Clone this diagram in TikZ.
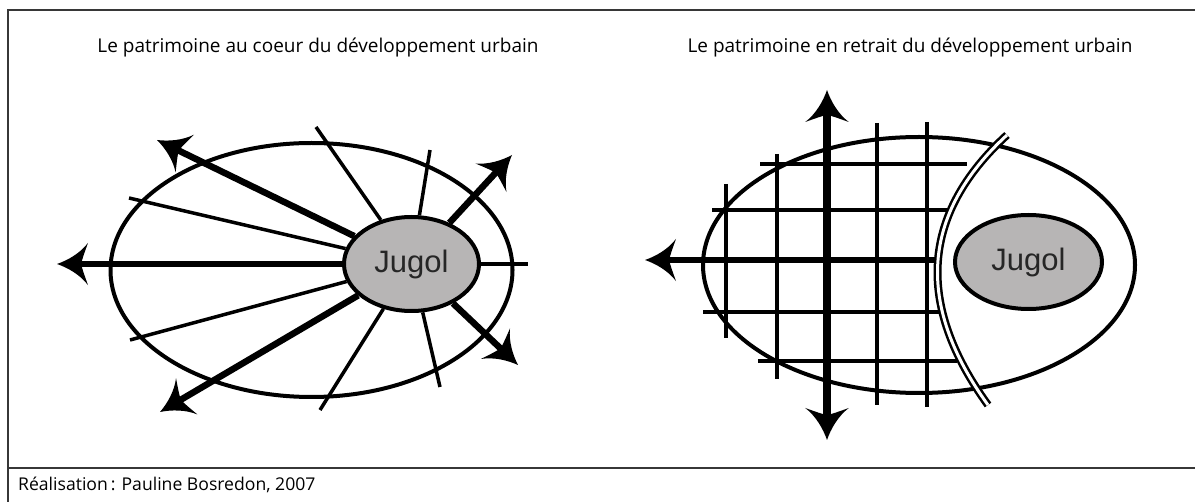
\documentclass[tikz,border=0pt]{standalone}
\usepackage{fontspec}
\setmainfont{Open Sans}
\newfontfamily\jfont{Liberation Sans}
\usetikzlibrary{shapes.geometric,arrows.meta}
\definecolor{jgray}{RGB}{183,181,181}
\definecolor{framec}{RGB}{55,55,55}
\pgfdeclarearrow{
  name=Curvy,
  parameters={\the\pgfarrowlength},
  setup code={
    \pgfarrowssettipend{\pgfarrowlength}
    \pgfarrowssetlineend{.4\pgfarrowlength}
    \pgfarrowssetbackend{0pt}
    \pgfarrowssavethe\pgfarrowlength
  },
  drawing code={
    \pgfpathmoveto{\pgfqpoint{\pgfarrowlength}{0pt}}
    \pgfpathcurveto{\pgfqpoint{.65\pgfarrowlength}{.12\pgfarrowlength}}{\pgfqpoint{.25\pgfarrowlength}{.35\pgfarrowlength}}{\pgfqpoint{0pt}{.68\pgfarrowlength}}
    \pgfpathcurveto{\pgfqpoint{.12\pgfarrowlength}{.35\pgfarrowlength}}{\pgfqpoint{.2\pgfarrowlength}{.12\pgfarrowlength}}{\pgfqpoint{.22\pgfarrowlength}{0pt}}
    \pgfpathcurveto{\pgfqpoint{.2\pgfarrowlength}{-.12\pgfarrowlength}}{\pgfqpoint{.12\pgfarrowlength}{-.35\pgfarrowlength}}{\pgfqpoint{0pt}{-.68\pgfarrowlength}}
    \pgfpathcurveto{\pgfqpoint{.25\pgfarrowlength}{-.35\pgfarrowlength}}{\pgfqpoint{.65\pgfarrowlength}{-.12\pgfarrowlength}}{\pgfqpoint{\pgfarrowlength}{0pt}}
    \pgfpathclose
    \pgfusepathqfill
  },
  defaults={length=30pt}
}
\begin{document}
\begin{tikzpicture}[x=1pt,y=-1pt,
  thickarrow/.style={line width=6.5pt,-{Curvy[length=31pt]}},
  botharrow/.style={line width=8pt,{Curvy[length=32pt]}-{Curvy[length=32pt]}},
  thinline/.style={line width=3.5pt},
  gridline/.style={line width=4.5pt},
  outerell/.style={ellipse,draw,line width=4pt,inner sep=0pt},
  jugol/.style={ellipse,draw,line width=4pt,fill=jgray,inner sep=0pt,font=\jfont\fontsize{31}{31}\selectfont,text=black!85},
  titletext/.style={font=\fontsize{19}{23}\selectfont,inner sep=0pt},
  frameline/.style={draw=framec,line width=1.5pt}
]
\useasboundingbox (0,0) rectangle (1195,502);
% frame
\draw[frameline] (1195,10) -- (8,10) -- (8,502);
\draw[frameline] (8,468) -- (1195,468);
% titles
\node[titletext] (t1) at (318,48) {Le patrimoine au coeur du développement urbain};
\node[titletext] (t2) at (910,48) {Le patrimoine en retrait du développement urbain};
\node[font=\fontsize{17.6}{20}\selectfont,anchor=west,inner sep=0pt] (credit) at (18,485) {Réalisation\,: Pauline Bosredon, 2007};

% ---------- left diagram ----------
\node[outerell,minimum width=402pt,minimum height=254pt] (OL) at (311.5,270) {};
\node[jugol,minimum width=135pt,minimum height=94pt] (JL) at (411.5,264) {Jugol};
\coordinate (l1) at (129,198);
\coordinate (l2) at (130,340);
\coordinate (l3) at (316,127);
\coordinate (l4) at (430,150);
\coordinate (l5) at (528,264);
\coordinate (l6) at (320,410);
\coordinate (l7) at (440,387);
\foreach \c in {l1,l2,l3,l4,l5,l6,l7} \draw[thinline] (JL) -- (\c);
\coordinate (aA) at (157,140);
\coordinate (aB) at (57,264);
\coordinate (aC) at (160,412);
\coordinate (aD) at (512,155);
\coordinate (aE) at (518,365);
\foreach \c in {aA,aB,aC,aD,aE} \draw[thickarrow] (JL) -- (\c);

% ---------- right diagram ----------
\node[outerell,minimum width=432pt,minimum height=256pt] (OR) at (919,265) {};
% grid verticals
\draw[gridline] (726,184) -- (726,338);
\draw[gridline] (777,154) -- (777,379);
\draw[gridline] (877,123) -- (877,405);
\draw[gridline] (927,122) -- (927,407);
% grid horizontals
\draw[gridline] (760,164) -- (967,164);
\draw[gridline] (712,210) -- (947,210);
\draw[gridline] (703,312) -- (939,312);
\draw[gridline] (758,361) -- (957,361);
% double curve
\draw[line width=2.5pt,double=white,double distance=3pt] (1007,135) .. controls (921,214) and (915,304) .. (988,405);
% thick arrows
\coordinate (hEnd) at (935,260);
\coordinate (hTip) at (645,260);
\draw[line width=6.5pt,-{Curvy[length=31pt]}] (hEnd) -- (hTip);
\coordinate (vTop) at (827,90);
\coordinate (vBot) at (827,440);
\draw[botharrow] (vTop) -- (vBot);
\node[jugol,minimum width=147pt,minimum height=94pt] (JR) at (1028.5,262) {Jugol};
\end{tikzpicture}
\end{document}
